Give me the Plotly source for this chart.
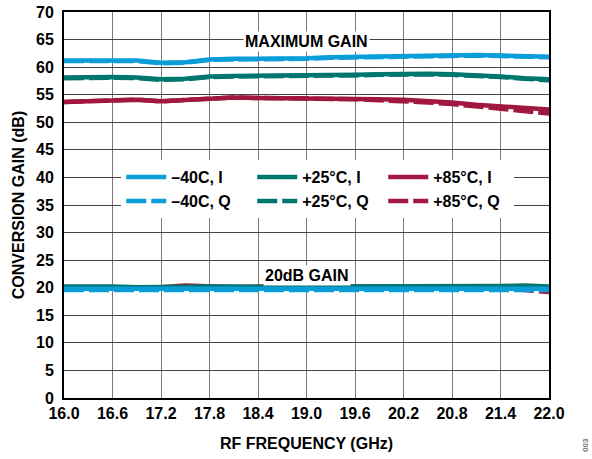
import plotly.graph_objects as go

freq = [16.0, 16.3, 16.6, 16.9, 17.2, 17.5, 17.8, 18.1, 18.4, 18.7, 19.0,
        19.3, 19.6, 19.9, 20.2, 20.5, 20.8, 21.1, 21.4, 21.7, 22.0]

# Maximum gain curves (dB)
max_m40_i = [61.2, 61.3, 61.2, 61.2, 60.8, 60.9, 61.4, 61.5, 61.5, 61.5, 61.6,
             61.8, 61.9, 62.0, 62.1, 62.1, 62.2, 62.2, 62.1, 61.9, 61.9]
max_m40_q = [61.1, 61.2, 61.1, 61.1, 60.7, 60.8, 61.3, 61.4, 61.4, 61.4, 61.5,
             61.7, 61.8, 61.9, 62.0, 62.0, 62.1, 62.1, 62.0, 61.8, 61.8]
max_25_i = [58.1, 58.2, 58.2, 58.1, 57.8, 57.9, 58.3, 58.4, 58.4, 58.5, 58.6,
            58.6, 58.6, 58.7, 58.8, 58.8, 58.7, 58.6, 58.3, 58.0, 57.8]
max_25_q = [58.0, 58.1, 58.1, 58.0, 57.7, 57.8, 58.2, 58.3, 58.3, 58.4, 58.5,
            58.5, 58.5, 58.6, 58.7, 58.7, 58.6, 58.5, 58.2, 57.9, 57.6]
max_85_i = [53.7, 53.9, 54.0, 54.1, 53.8, 54.0, 54.4, 54.5, 54.4, 54.4, 54.4,
            54.3, 54.3, 54.2, 54.1, 53.9, 53.6, 53.2, 52.9, 52.5, 52.3]
max_85_q = [53.7, 53.9, 54.0, 54.1, 53.8, 54.0, 54.4, 54.5, 54.4, 54.4, 54.3,
            54.2, 54.2, 54.0, 53.9, 53.6, 53.3, 52.9, 52.5, 52.0, 51.6]

# 20 dB gain setting curves (dB)
g20_m40_i = [19.8, 19.8, 19.8, 19.8, 19.8, 19.8, 19.8, 19.8, 19.8, 19.8, 19.8,
             19.8, 19.8, 19.8, 19.8, 19.8, 19.8, 19.8, 19.8, 19.8, 19.8]
g20_m40_q = [19.6, 19.6, 19.6, 19.6, 19.6, 19.6, 19.6, 19.6, 19.6, 19.6, 19.6,
             19.6, 19.6, 19.6, 19.6, 19.6, 19.6, 19.6, 19.6, 19.6, 19.6]
g20_25_i = [20.2, 20.3, 20.2, 20.1, 20.2, 20.1, 20.2, 20.2, 20.1, 20.1, 20.2,
            20.2, 20.1, 20.1, 20.1, 20.2, 20.1, 20.3, 20.3, 20.4, 20.2]
g20_25_q = [20.1, 20.1, 20.1, 20.0, 20.1, 20.0, 20.1, 20.1, 20.0, 20.0, 20.1,
            20.1, 20.0, 20.0, 20.0, 20.1, 20.0, 20.1, 20.1, 20.1, 20.0]
g20_85_i = [20.1, 20.1, 20.2, 20.3, 20.1, 20.4, 20.2, 20.1, 20.2, 20.2, 20.3,
            20.2, 20.2, 20.1, 20.2, 20.1, 20.1, 20.1, 20.2, 20.1, 20.0]
g20_85_q = [20.0, 20.0, 20.1, 20.1, 20.0, 20.2, 20.1, 20.0, 20.1, 20.1, 20.1,
            20.1, 20.1, 20.0, 20.1, 20.0, 20.0, 19.9, 19.8, 19.6, 19.2]

x_ticks = [16.0, 16.6, 17.2, 17.8, 18.4, 19.0, 19.6, 20.2, 20.8, 21.4, 22.0]
y_ticks = list(range(0, 71, 5))

BLUE = "#0A9ED8"
TEAL = "#00766E"
RED = "#A0173F"
FONT = "Liberation Sans, Arial, sans-serif"

series = [
    # name, color, dash, max data, 20dB data, legendrank
    ("+85°C, I", RED, "solid", max_85_i, g20_85_i, 3),
    ("+85°C, Q", RED, "20px,5px", max_85_q, g20_85_q, 6),
    ("+25°C, I", TEAL, "solid", max_25_i, g20_25_i, 2),
    ("+25°C, Q", TEAL, "20px,5px", max_25_q, g20_25_q, 5),
    ("–40C, I", BLUE, "solid", max_m40_i, g20_m40_i, 1),
    ("–40C, Q", BLUE, "20px,5px", max_m40_q, g20_m40_q, 4),
]

fig = go.Figure()
for name, color, dash, ymax, y20, rank in series:
    fig.add_trace(go.Scatter(x=freq, y=ymax, mode="lines", name=name,
                             legendgroup=name, legendrank=rank,
                             line=dict(color=color, width=4.5, dash=dash)))
    fig.add_trace(go.Scatter(x=freq, y=y20, mode="lines", name=name,
                             legendgroup=name, showlegend=False,
                             line=dict(color=color, width=4.5, dash=dash)))

fig.add_annotation(x=19.0, y=64.6, text="MAXIMUM GAIN", showarrow=False,
                   bgcolor="white", font=dict(size=16, color="black", family=FONT, weight="bold"))
fig.add_annotation(x=19.0, y=22.3, text="20dB GAIN", showarrow=False,
                   bgcolor="white", font=dict(size=16, color="black", family=FONT, weight="bold"))
fig.add_annotation(x=1.0, y=0.0, xref="paper", yref="paper", xanchor="center", yanchor="middle",
                   xshift=36, yshift=-47, text="003", textangle=-90, showarrow=False,
                   font=dict(size=8, color="#777", family=FONT))

fig.update_layout(
    width=592, height=459,
    margin=dict(l=64, r=43, t=12, b=61, autoexpand=False),
    paper_bgcolor="white", plot_bgcolor="white",
    font=dict(family=FONT, size=16, color="black", weight="bold"),
    legend=dict(orientation="h", x=0.118, y=0.616, xanchor="left", yanchor="top",
                bgcolor="white", entrywidth=76, traceorder="normal",
                font=dict(size=16, family=FONT, weight="bold"),
                itemwidth=40, tracegroupgap=0),
    showlegend=True,
)
fig.update_xaxes(range=[16.0, 22.0], tickvals=x_ticks, ticktext=[f"{v:.1f}" for v in x_ticks],
                 showgrid=True, gridcolor="#7a7a7a", gridwidth=1,
                 showline=True, linecolor="black", linewidth=2, mirror=True,
                 ticks="", zeroline=False, automargin=False, ticklabelstandoff=0,
                 tickfont=dict(size=16, family=FONT, weight="bold"),
                 title=dict(text="RF FREQUENCY (GHz)", standoff=17,
                            font=dict(size=16, family=FONT, weight="bold")))
fig.update_yaxes(range=[0, 70], tickvals=y_ticks,
                 showgrid=True, gridcolor="#444444", gridwidth=1,
                 showline=True, linecolor="black", linewidth=2, mirror=True,
                 ticks="", zeroline=False, automargin=False, ticklabelstandoff=5,
                 ticklabeloverflow="allow",
                 tickfont=dict(size=16, family=FONT, weight="bold"),
                 title=dict(text="CONVERSION GAIN (dB)", standoff=7,
                            font=dict(size=16, family=FONT, weight="bold")))

# remove the default 8px page margin so the figure sits at the window's top-left corner
fig.write_html("out.html", config={"displayModeBar": False},
               post_script="document.body.style.margin='0';")
